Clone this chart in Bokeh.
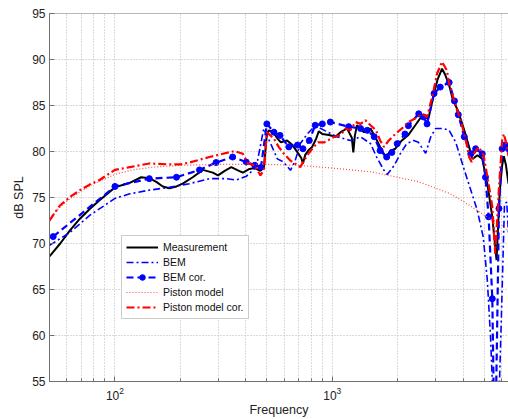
from bokeh.plotting import figure
from bokeh.models import FixedTicker, Legend, LegendItem, Span
from bokeh.embed import file_html
from bokeh.resources import INLINE

# Measurement
meas_f = [50, 56, 62, 69, 77, 85, 100, 117, 132, 144, 155, 166, 178, 192, 205, 228, 254, 282, 298, 320,
          343, 368, 388, 416, 440, 467, 485, 500, 511, 539, 560, 580, 620, 656, 692, 720, 733, 750, 775,
          808, 840, 867, 900, 965, 1035, 1092, 1170, 1230, 1250, 1270, 1300, 1400, 1500, 1590, 1660,
          1760, 1860, 1950, 2090, 2240, 2410, 2590, 2700, 2780, 2940, 3050, 3200, 3300, 3450, 3600,
          3780, 4050, 4260, 4420, 4660, 4900, 5170, 5450, 5700, 5900, 6050, 6160, 6300, 6470]
meas_db = [68.6, 70.0, 71.4, 72.7, 73.8, 74.7, 76.1, 76.6, 77.2, 77.1, 76.7, 76.2, 76.0, 76.2, 76.5, 77.2,
           78.0, 77.7, 77.4, 77.9, 78.3, 77.95, 77.7, 78.1, 78.2, 77.9, 78.3, 81.9, 82.3, 82.0, 81.4,
           81.0, 81.2, 80.7, 79.9, 79.3, 78.7, 79.6, 80.1, 80.5, 81.3, 82.2, 81.9, 81.8, 81.6, 82.1,
           82.5, 81.5, 79.9, 81.7, 82.85, 82.1, 82.5, 81.4, 80.5, 79.4, 80.1, 80.3, 81.2, 81.8, 82.85,
           83.9, 83.6, 83.75, 86.3, 87.8, 89.0, 88.4, 87.2, 85.5, 84.5, 82.3, 80.5, 79.2, 79.6, 79.2,
           76.5, 72.9, 68.2, 75.8, 78.5, 79.5, 78.5, 76.5]

# BEM
bem_f = [50, 62, 76.5, 100, 117, 144, 178, 220, 272, 325, 361, 402, 447, 484, 521, 559, 597, 642, 675,
         712, 767, 823, 860, 920, 1050, 1210, 1350, 1500, 1600, 1730, 1790, 1930, 2060, 2200, 2370,
         2490, 2690, 2840, 2990, 3250, 3450, 3700, 4050, 4650, 4950, 5170, 5350, 5450, 5550, 5800,
         6000, 6200, 6350, 6470]
bem_db = [69.8, 71.2, 73.05, 74.9, 75.4, 75.8, 76.1, 76.5, 77.05, 77.05, 76.9, 77.3, 78.3, 82.5, 80.85,
          79.2, 78.85, 77.95, 79.0, 80.85, 81.9, 82.65, 82.65, 82.3, 81.6, 81.2, 81.6, 80.85, 79.4,
          77.95, 77.5, 78.5, 79.8, 80.85, 81.2, 81.0, 79.8, 81.6, 82.5, 82.5, 82.3, 81.0, 78.0, 73.6,
          70.7, 66.0, 59.8, 55.0, 48.0, 50.0, 62.0, 74.3, 74.5, 71.0]

# BEM cor.
bemc_f = [52, 100, 144, 192, 245, 292, 348, 402, 440, 470, 500, 539, 575, 631, 692, 733, 784, 835, 900,
          980, 1190, 1350, 1450, 1560, 1660, 1780, 1880, 1990, 2160, 2240, 2500, 2630, 2730, 2940,
          3140, 3450, 3650, 3800, 4050, 4340, 4570, 4900, 5070, 5240, 5450, 5600, 5850, 6050, 6250,
          6470]
bemc_db = [70.75, 76.2, 77.05, 77.2, 78.0, 78.8, 79.4, 78.85, 78.5, 78.3, 83.0, 82.1, 81.75, 80.5,
           80.7, 80.3, 81.2, 82.85, 83.0, 83.2, 82.7, 82.5, 82.3, 81.6, 80.1, 79.4, 79.9, 80.85, 81.9,
           82.8, 84.1, 83.75, 83.0, 86.3, 87.0, 87.5, 85.5, 84.0, 81.6, 79.75, 80.3, 79.75, 77.2,
           72.9, 64.0, 45.0, 73.8, 80.3, 80.7, 80.3]

# Piston model
pist_f = [50, 55, 60, 70, 80, 100, 120, 150, 200, 300, 500, 700, 1000, 1500, 2000, 2500, 3000, 3500,
          4000, 5000, 6000, 6470]
pist_db = [72.7, 73.8, 74.6, 75.7, 76.5, 77.5, 78.0, 78.3, 78.5, 78.6, 78.6, 78.5, 78.2, 77.8, 77.2,
           76.7, 76.0, 75.4, 74.6, 73.1, 72.0, 71.4]

# Piston model cor.
pistc_f = [50, 55.7, 62, 69, 76.5, 85, 100, 117, 144, 178, 200, 220, 272, 314, 355, 388, 409, 440, 467,
           485, 500, 539, 567, 597, 642, 692, 712, 767, 823, 860, 920, 1020, 1090, 1150, 1210, 1280,
           1350, 1420, 1500, 1590, 1660, 1730, 1820, 1950, 2090, 2240, 2410, 2590, 2730, 2880, 3040,
           3200, 3370, 3450, 3700, 3940, 4150, 4260, 4380, 4500, 4720, 4970, 5240, 5450, 5620, 5840,
           6050, 6160, 6300, 6470]
pistc_db = [72.5, 74.1, 75.05, 75.8, 76.4, 76.9, 78.0, 78.3, 78.7, 78.6, 78.6, 78.8, 79.4, 79.75, 80.05,
            79.75, 78.7, 78.5, 77.4, 78.0, 82.1, 81.4, 80.5, 79.8, 79.0, 78.5, 78.3, 79.6, 80.5, 81.0,
            81.0, 81.6, 81.75, 82.5, 82.3, 83.2, 83.0, 83.4, 82.85, 82.3, 81.2, 80.5, 81.2, 81.9, 82.5,
            83.2, 83.6, 84.1, 83.75, 85.9, 88.5, 89.75, 88.8, 87.4, 85.0, 83.0, 80.85, 79.4, 78.85,
            79.8, 80.5, 79.6, 76.5, 74.0, 68.9, 75.8, 81.2, 81.9, 81.0, 79.5]

x_major = [100, 1000]
x_minor = [50, 60, 70, 80, 90, 200, 300, 400, 500, 600, 700, 800, 900, 2000, 3000, 4000, 5000, 6000]
y_ticks = [55, 60, 65, 70, 75, 80, 85, 90, 95]

FONT = "Liberation Sans"
GRID = "#b4b4b4"
AXIS = "#707070"

p = figure(width=508, height=419, x_axis_type="log", x_range=(50, 6470), y_range=(55, 95),
           output_backend="svg", toolbar_location=None,
           min_border_left=49, min_border_right=0, min_border_top=13, min_border_bottom=38)
p.outline_line_color = None
p.background_fill_color = "white"
p.border_fill_color = "white"

p.xaxis.ticker = FixedTicker(ticks=x_major, minor_ticks=x_minor)
p.yaxis.ticker = FixedTicker(ticks=y_ticks)

for ax in (p.xaxis, p.yaxis):
    ax.axis_line_color = AXIS
    ax.major_tick_line_color = AXIS
    ax.minor_tick_line_color = AXIS
    ax.major_tick_in = 5
    ax.major_tick_out = 0
    ax.minor_tick_in = 3
    ax.minor_tick_out = 0
    ax.major_label_text_font = FONT
    ax.major_label_text_font_size = "12px"
    ax.major_label_text_color = "#222222"
    ax.axis_label_text_font = FONT
    ax.axis_label_text_font_size = "12.5px"
    ax.axis_label_text_font_style = "normal"
    ax.axis_label_text_color = "#222222"

p.xaxis.axis_label = "Frequency"
p.yaxis.axis_label = "dB SPL"
p.xaxis.major_label_standoff = 5
p.xaxis.axis_label_standoff = 0
p.yaxis.major_label_standoff = 4
p.yaxis.axis_label_standoff = 3

p.xgrid.grid_line_color = GRID
p.xgrid.grid_line_dash = "1 2"
p.xgrid.minor_grid_line_color = GRID
p.xgrid.minor_grid_line_dash = "1 2"
p.ygrid.grid_line_color = GRID
p.ygrid.grid_line_dash = "1 2"

p.add_layout(Span(location=95, dimension="width", line_color=AXIS, line_width=1))

r_meas = p.line(meas_f, meas_db, line_color="black", line_width=2)
r_bem = p.line(bem_f, bem_db, line_color="#0000ff", line_width=1.6, line_dash="7 3 2 3")
r_bemc = p.line(bemc_f, bemc_db, line_color="#0000ff", line_width=2.2, line_dash="7 4")
r_bemc_m = p.scatter(bemc_f, bemc_db, size=6, fill_color="#0000ff", line_color="#0000ff")
r_pist = p.line(pist_f, pist_db, line_color="#ff4444", line_width=1.2, line_dash="1 2")
r_pistc = p.line(pistc_f, pistc_db, line_color="#ff0000", line_width=2.2, line_dash="8 3 2 3")

legend = Legend(items=[
    LegendItem(label="Measurement", renderers=[r_meas]),
    LegendItem(label="BEM", renderers=[r_bem]),
    LegendItem(label="BEM cor.", renderers=[r_bemc, r_bemc_m]),
    LegendItem(label="Piston model", renderers=[r_pist]),
    LegendItem(label="Piston model cor.", renderers=[r_pistc]),
], location=(72, 62))
legend.label_text_font = FONT
legend.label_text_font_size = "10.5px"
legend.label_text_color = "#111111"
legend.glyph_width = 32
legend.glyph_height = 14
legend.label_height = 14
legend.label_standoff = 5
legend.spacing = 1
legend.padding = 4
legend.margin = 0
legend.border_line_color = "#999999"
legend.border_line_width = 1
legend.background_fill_color = "white"
legend.background_fill_alpha = 1
p.add_layout(legend, "center")

open("out.html", "w").write(file_html(p, INLINE))
